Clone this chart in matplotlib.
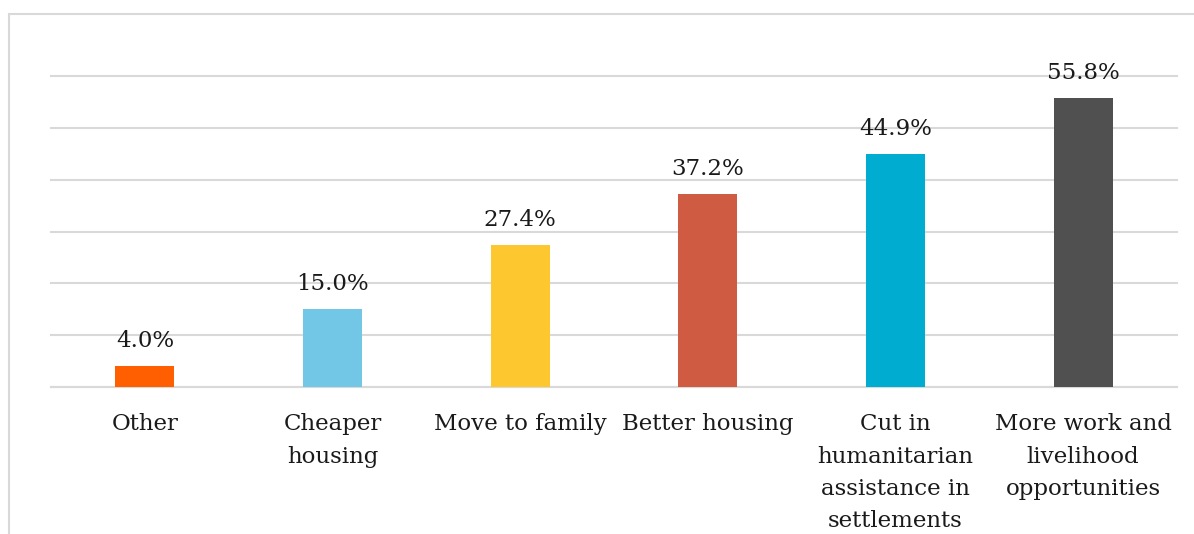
import numpy as np
import matplotlib
matplotlib.use("Agg")
import matplotlib.pyplot as plt
from matplotlib.patches import Rectangle

categories = ["Other", "Cheaper\nhousing", "Move to family", "Better housing",
              "Cut in\nhumanitarian\nassistance in\nsettlements",
              "More work and\nlivelihood\nopportunities"]
values = [4.0, 15.0, 27.4, 37.2, 44.9, 55.8]
colors = ["#FF5F00", "#72C7E7", "#FDC82F", "#CF5C42", "#00ACD0", "#505050"]

plt.rcParams['font.family'] = ['DejaVu Serif']

fig = plt.figure(figsize=(11.94, 5.34), dpi=100)
fig.patches.append(Rectangle((9 / 1194, -0.1), 1.2, (534 - 14) / 534 + 0.1,
                             transform=fig.transFigure, fill=False,
                             edgecolor="#d9d9d9", linewidth=1.5))
ax = fig.add_axes([51 / 1194, (534 - 387) / 534, 1126 / 1194, 311 / 534])

x = np.arange(len(categories))
ax.bar(x, values, width=0.315, color=colors, zorder=3)
for xi, v in zip(x, values):
    ax.annotate(f"{v:.1f}%", (xi, v), xytext=(0, 10), textcoords="offset points",
                ha="center", va="bottom", fontsize=16.5, color="#1a1a1a")

ax.set_xlim(-0.5, len(categories) - 0.5)
ax.set_ylim(0, 60)
ax.set_yticks(np.arange(0, 61, 10))
ax.yaxis.grid(True, color="#d9d9d9", linewidth=1.5, zorder=0)
for gl in ax.get_ygridlines():
    gl.set_clip_on(False)
ax.tick_params(axis="y", left=False, labelleft=False)
ax.tick_params(axis="x", bottom=False, pad=15.5)
ax.set_xticks(x)
ax.set_xticklabels(categories, fontsize=16.5, color="#1a1a1a", linespacing=1.6, va="top")
for s in ["top", "right", "left"]:
    ax.spines[s].set_visible(False)
ax.spines["bottom"].set_color("#d9d9d9")
ax.spines["bottom"].set_linewidth(1.5)

fig.savefig("out.png", dpi=100)
